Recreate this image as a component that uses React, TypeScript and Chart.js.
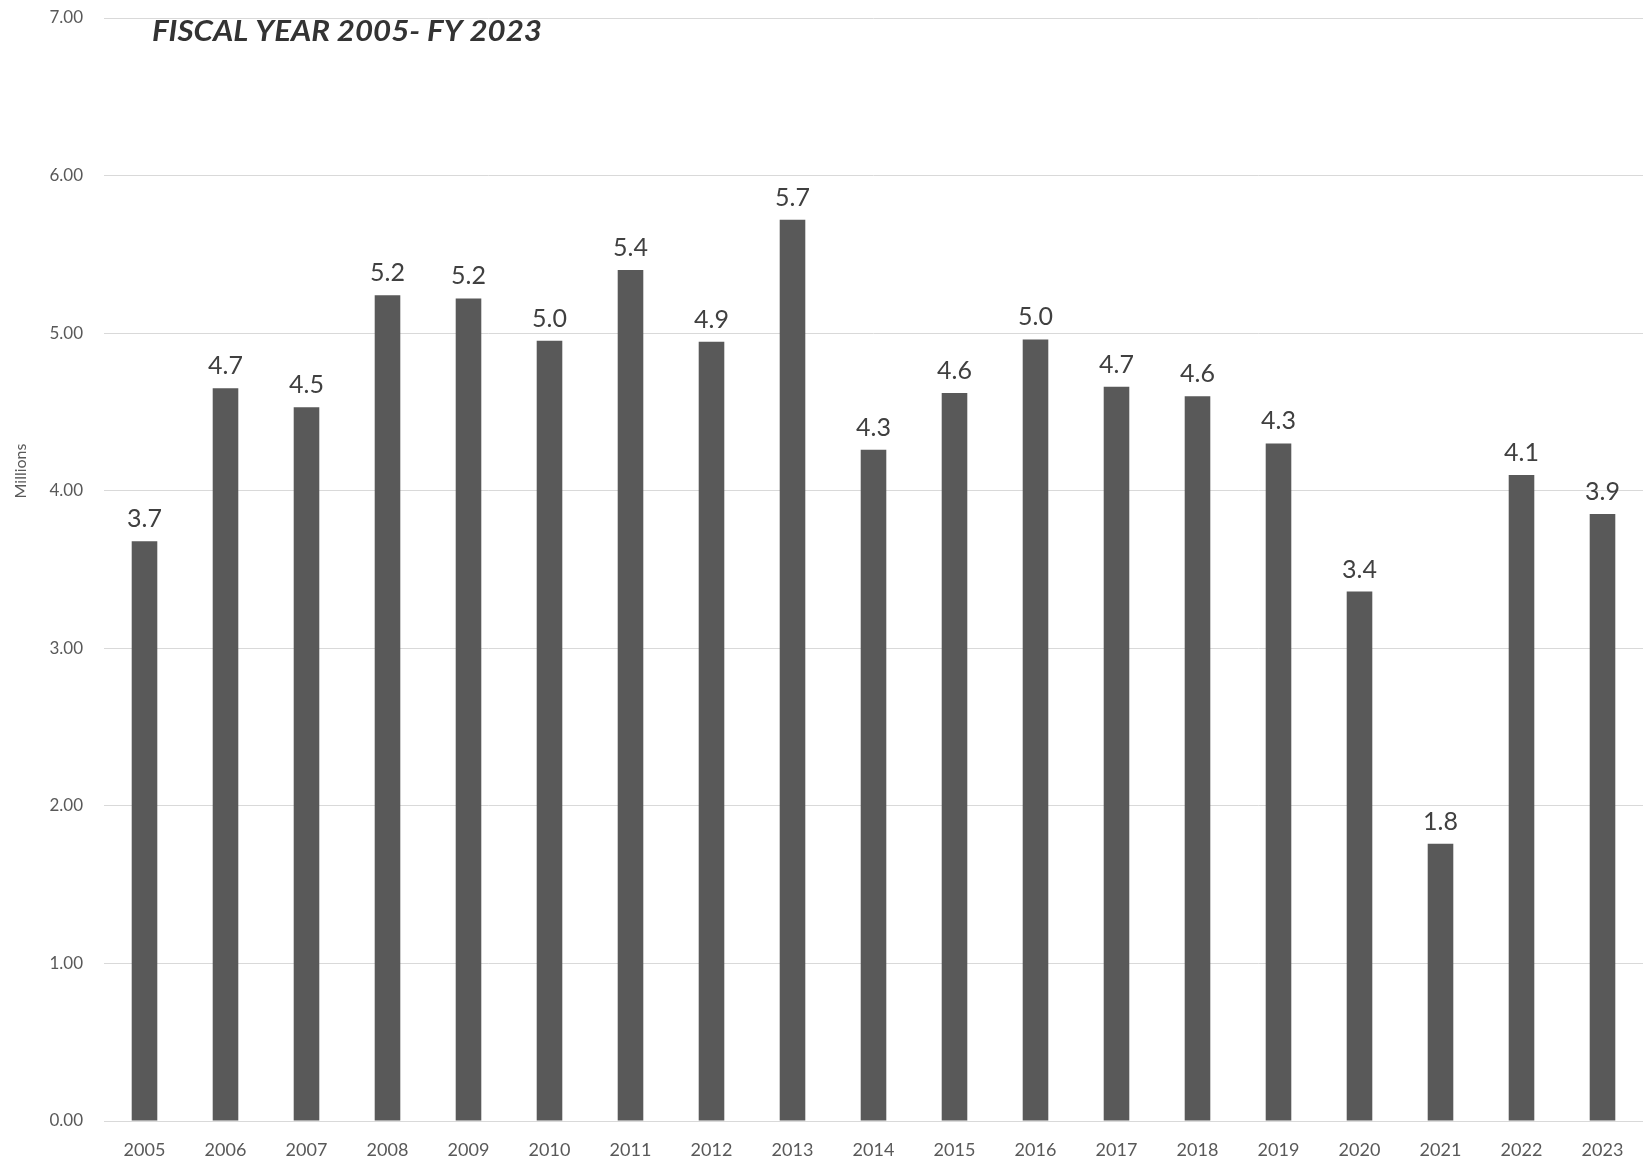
import React, { useEffect, useRef } from "react";
import { Chart, registerables } from "chart.js";

Chart.register(...registerables);

// Fiscal years on the category axis
const years = [
  "2005", "2006", "2007", "2008", "2009", "2010", "2011", "2012", "2013", "2014",
  "2015", "2016", "2017", "2018", "2019", "2020", "2021", "2022", "2023",
];

// Annual totals, in millions
const totals = [
  3.68, 4.65, 4.53, 5.24, 5.22, 4.951, 5.4, 4.945, 5.72, 4.26,
  4.62, 4.96, 4.66, 4.6, 4.3, 3.36, 1.76, 4.1, 3.852,
];

const yTicks = [0, 1, 2, 3, 4, 5, 6, 7];

const subtitle = "FISCAL YEAR 2005- FY 2023";
const unitLabel = "Millions";

const FONT = "Lato, 'Open Sans', sans-serif";
const BAR = "#595959";
const GRID = "#d9d9d9";
const TICK_TEXT = "#595959";

const W = 1643;
const H = 1161;

const decorations = {
  id: "decorations",
  afterDatasetsDraw(chart: any) {
    const ctx = chart.ctx as CanvasRenderingContext2D;
    const meta = chart.getDatasetMeta(0);
    const values = chart.data.datasets[0].data as number[];

    // value labels above each bar
    ctx.save();
    ctx.font = `25px ${FONT}`;
    ctx.fillStyle = "#404040";
    ctx.textAlign = "center";
    ctx.textBaseline = "alphabetic";
    meta.data.forEach((bar: any, i: number) => {
      ctx.fillText(values[i].toFixed(1), bar.x, bar.y - 14);
    });
    ctx.restore();

    // rotated unit label beside the value axis
    ctx.save();
    ctx.font = `16px ${FONT}`;
    ctx.fillStyle = TICK_TEXT;
    ctx.textAlign = "center";
    ctx.textBaseline = "middle";
    ctx.translate(21, 471);
    ctx.rotate(-Math.PI / 2);
    ctx.fillText(unitLabel, 0, 0);
    ctx.restore();

    // subtitle, condensed to the heading width
    ctx.save();
    ctx.font = `italic bold 29px ${FONT}`;
    ctx.fillStyle = "#333333";
    ctx.textBaseline = "alphabetic";
    ctx.textAlign = "left";
    const w = ctx.measureText(subtitle).width;
    const sx = 390 / w;
    ctx.translate(152, 41);
    ctx.scale(sx, 1);
    ctx.fillText(subtitle, 0, 0);
    ctx.restore();
  },
};

export default function App() {
  const canvasRef = useRef<HTMLCanvasElement | null>(null);

  useEffect(() => {
    document.body.style.margin = "0";
    document.body.style.overflow = "hidden";
    const canvas = canvasRef.current;
    if (!canvas) return;

    const chart = new Chart(canvas, {
      type: "bar",
      data: {
        labels: years,
        datasets: [
          {
            data: totals,
            backgroundColor: BAR,
            borderWidth: 0,
            barPercentage: 0.316,
            categoryPercentage: 1,
          },
        ],
      },
      options: {
        responsive: false,
        maintainAspectRatio: false,
        animation: false,
        devicePixelRatio: 1,
        layout: { padding: { top: 18, right: 0, bottom: 0, left: 0 } },
        plugins: {
          legend: { display: false },
          title: { display: false },
          tooltip: { enabled: false },
        },
        scales: {
          x: {
            offset: true,
            grid: { display: false, drawTicks: false },
            border: { display: true, color: GRID, width: 1 },
            ticks: {
              color: TICK_TEXT,
              font: { family: FONT, size: 18 },
              padding: 18,
              maxRotation: 0,
              autoSkip: false,
            },
            afterFit(scale: any) {
              scale.height = 40;
              scale.paddingLeft = 0;
              scale.paddingRight = 0;
            },
          },
          y: {
            min: 0,
            max: 7,
            afterBuildTicks(scale: any) {
              scale.ticks = yTicks.map((v) => ({ value: v }));
            },
            grid: { color: GRID, lineWidth: 1, drawTicks: false },
            border: { display: false },
            ticks: {
              color: TICK_TEXT,
              font: { family: FONT, size: 17 },
              padding: 21,
              callback: (v: any) => Number(v).toFixed(2),
            },
            afterFit(scale: any) {
              scale.width = 104;
              scale.paddingTop = 0;
              scale.paddingBottom = 0;
            },
          },
        },
      },
      plugins: [decorations],
    });

    return () => chart.destroy();
  }, []);

  return (
    <div style={{ width: W, height: H, background: "#ffffff" }}>
      <canvas ref={canvasRef} width={W} height={H} style={{ display: "block" }} />
    </div>
  );
}
